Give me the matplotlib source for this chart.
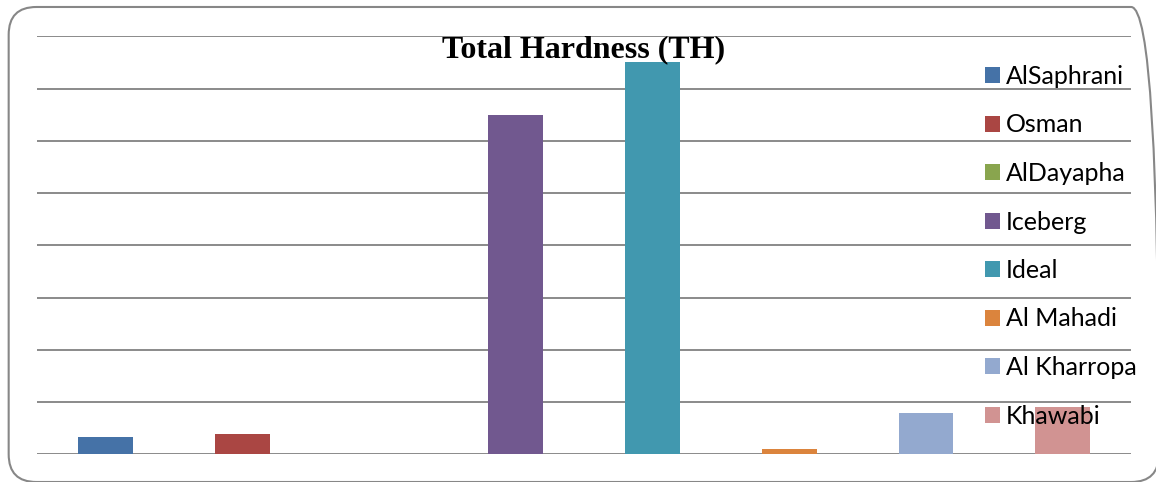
import matplotlib.pyplot as plt
from matplotlib.patches import FancyBboxPatch, Patch

# datos
marcas = ['AlSaphrani', 'Osman', 'AlDayapha', 'Iceberg', 'Ideal',
          'Al Mahadi', 'Al Kharropa', 'Khawabi']
valores = [0.33, 0.39, 0.0, 6.49, 7.51, 0.10, 0.79, 0.91]
colores = ['#4572A7', '#AA4643', '#89A54E', '#71588F', '#4198AF',
           '#DB843D', '#93A9CF', '#D19392']

fig = plt.figure(figsize=(11.56, 4.82), dpi=100)
ax = fig.add_axes([0.0323, 0.0575, 0.9461, 0.8672])

# borde redondeado del grafico
borde = FancyBboxPatch((0.0075, 0.0), 0.995, 0.9855,
                       boxstyle='round,pad=0,rounding_size=0.024',
                       transform=fig.transFigure, facecolor='none',
                       edgecolor='#878787', linewidth=1.5, mutation_aspect=2.4)
fig.patches.append(borde)

x = range(len(marcas))
ax.bar(x, valores, width=0.4, color=colores, zorder=3)

ax.set_xlim(-0.5, len(marcas) - 0.5)
ax.set_ylim(0, 8)
ax.set_yticks(range(0, 9))
ax.grid(axis='y', color='#8a8a8a', linewidth=1.4, zorder=0)
ax.set_xticks([])
ax.tick_params(left=False, labelleft=False)
for s in ax.spines.values():
    s.set_visible(False)

fig.text(0.505, 0.882, 'Total Hardness (TH)', ha='center', va='baseline',
         family='Liberation Serif', fontweight='bold', fontsize=23)

handles = [Patch(facecolor=c) for c in colores]
ax.legend(handles, marcas, loc='upper left', bbox_to_anchor=(985 / 1156, 1 - 65 / 482),
          bbox_transform=fig.transFigure, frameon=False, borderpad=0,
          prop={'family': 'Lato', 'size': 18}, handlelength=0.6, handleheight=0.6,
          handletextpad=0.25, labelspacing=1.02, borderaxespad=0)

plt.savefig('out.png', dpi=100)
